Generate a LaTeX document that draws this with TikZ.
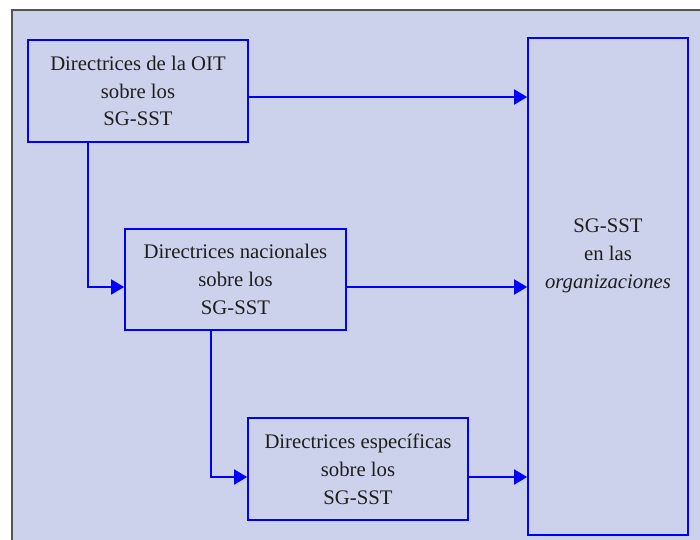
\documentclass[tikz,border=0pt]{standalone}
\usepackage{fontspec}
\setmainfont{Liberation Serif}
\usetikzlibrary{arrows.meta,calc}
\definecolor{bgc}{RGB}{205,210,236}
\definecolor{frame}{RGB}{85,85,85}
\definecolor{txt}{RGB}{30,30,30}
\tikzset{
  gbox/.style={draw=blue, line width=1.7bp, fill=bgc, rectangle, align=center,
    text=txt, font=\fontsize{20.8}{28}\selectfont, inner sep=0pt},
  arr/.style={draw=blue, line width=1.7bp, -{Triangle[length=13bp,width=15bp]}},
}
\begin{document}
\begin{tikzpicture}[x=1bp,y=-1bp]
\useasboundingbox (0,0) rectangle (700,540);
\fill[bgc] (12,10) rectangle (700,540);
\draw[frame, line width=2bp] (12,540) -- (12,10) -- (700,10);

\node[gbox, minimum width=220bp, minimum height=102bp] (b1) at (138,91)
  {Directrices de la OIT\\sobre los\\SG-SST};
\node[gbox, minimum width=221bp, minimum height=101bp] (b2) at (235.5,279.5)
  {Directrices nacionales\\sobre los\\SG-SST};
\node[gbox, minimum width=220bp, minimum height=102bp] (b3) at (358,469)
  {Directrices específicas\\sobre los\\SG-SST};
\node[gbox, minimum width=160bp, minimum height=497bp] (big) at (608,286.5) {};
\node[align=center, text=txt, font=\fontsize{20.8}{28}\selectfont, inner sep=0pt] (bigtxt) at (608,256)
  {SG-SST\\en las\\\textit{organizaciones}};

\coordinate (y1) at (0,97);
\coordinate (y2) at (0,287);
\coordinate (y3) at (0,477);
\coordinate (x1) at (88,0);
\coordinate (x2) at (211,0);

\draw[arr] (b1.east |- y1) -- (big.west |- y1);
\draw[arr] (b2.east |- y2) -- (big.west |- y2);
\draw[arr] (b3.east |- y3) -- (big.west |- y3);
\draw[arr] (x1 |- b1.south) -- (x1 |- y2) -- (b2.west |- y2);
\draw[arr] (x2 |- b2.south) -- (x2 |- y3) -- (b3.west |- y3);
\end{tikzpicture}
\end{document}
